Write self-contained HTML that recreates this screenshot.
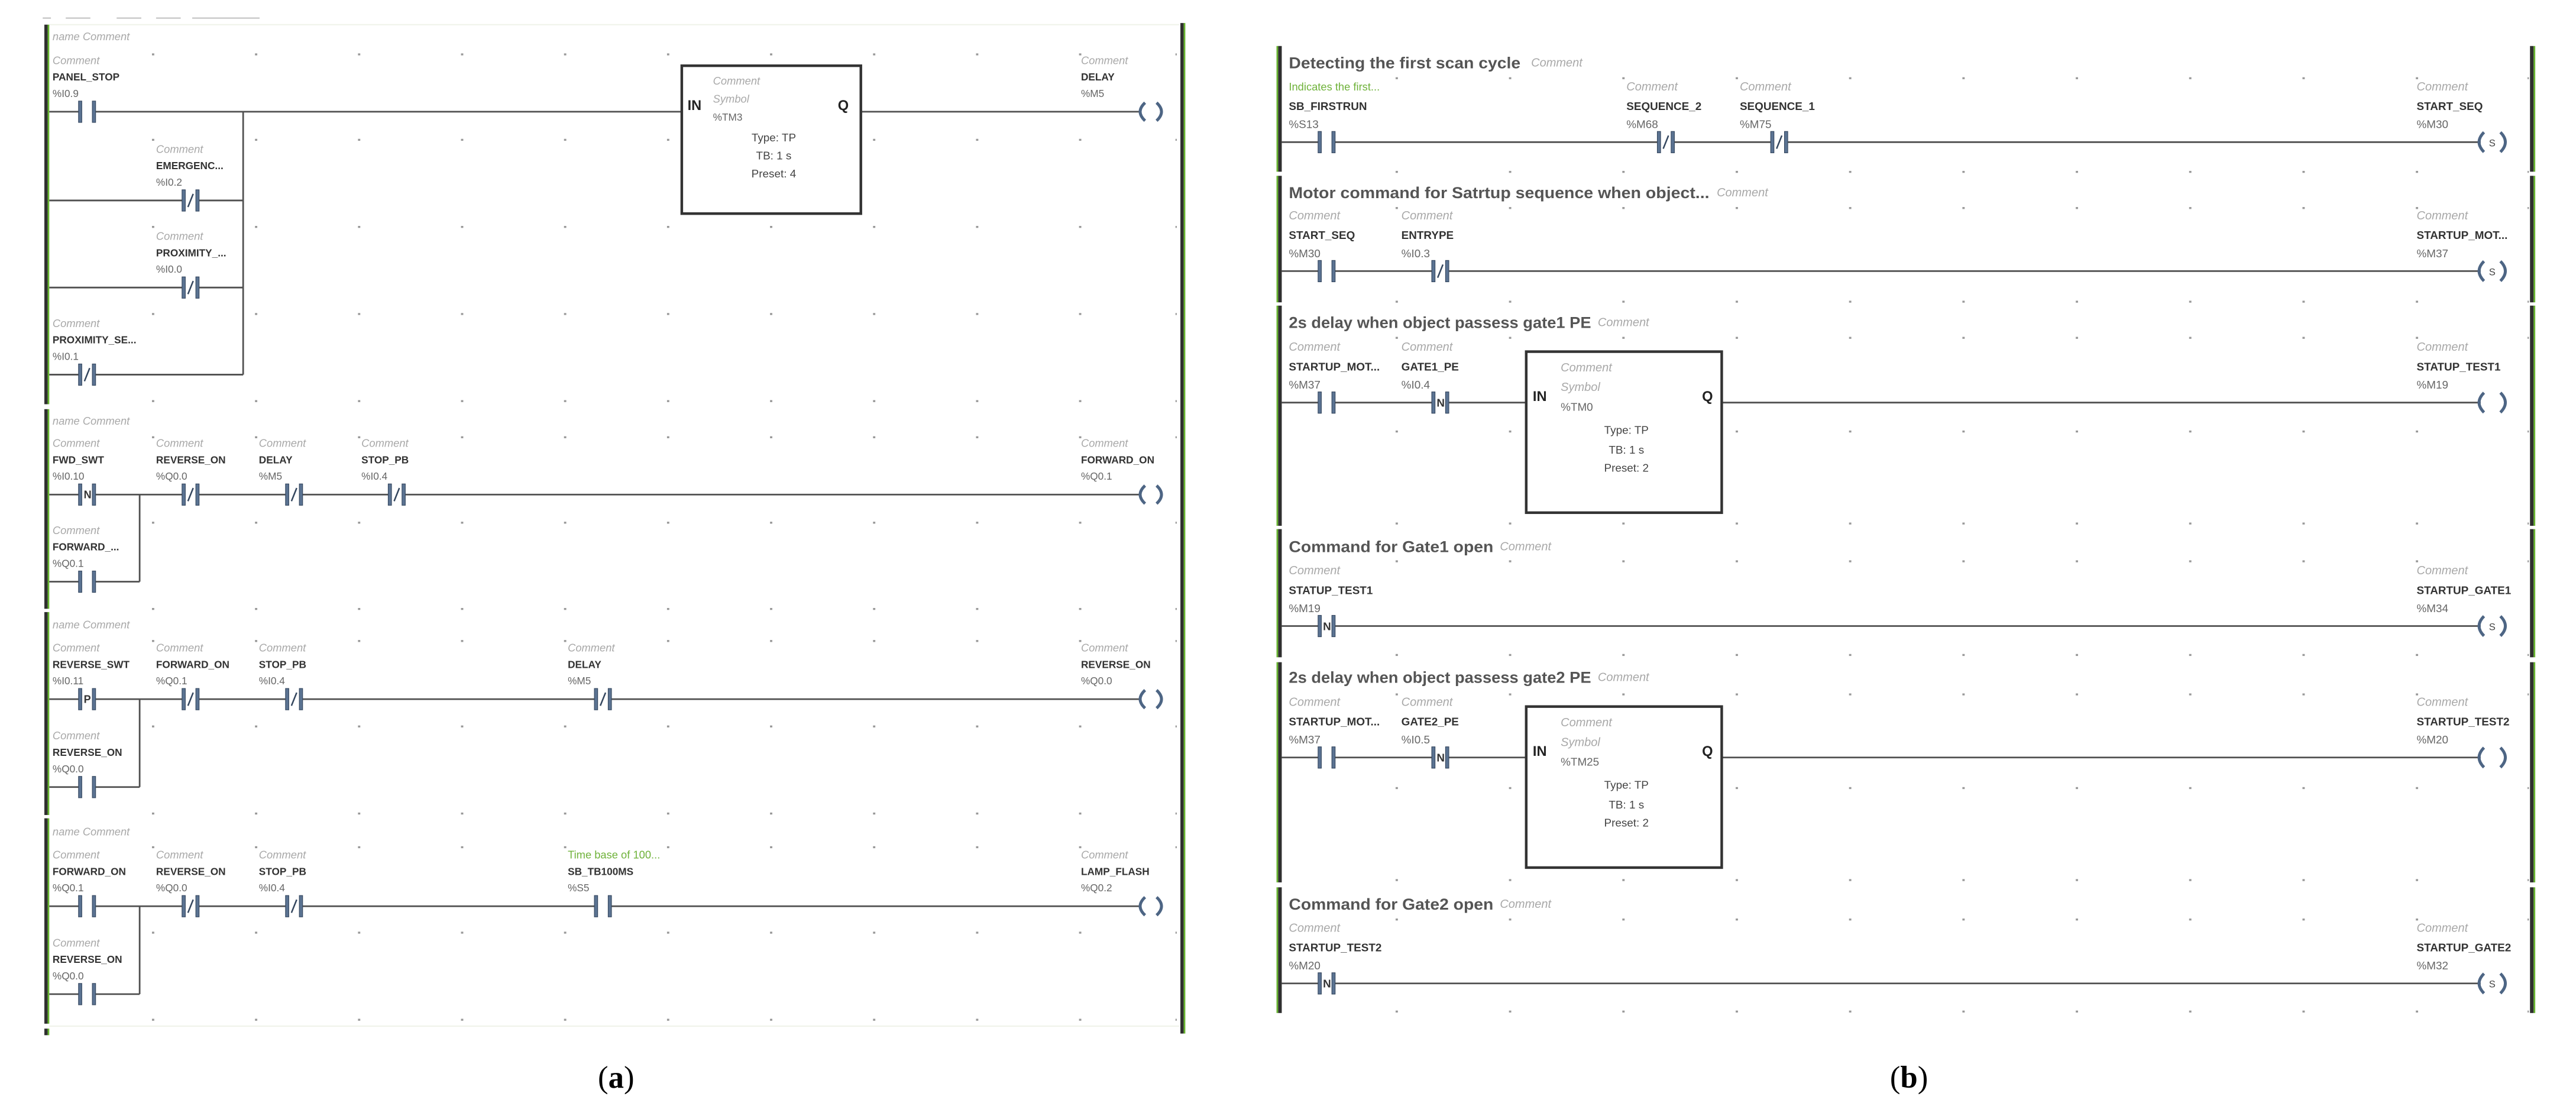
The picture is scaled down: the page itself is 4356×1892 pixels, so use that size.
<!DOCTYPE html>
<html><head><meta charset="utf-8"><style>
html,body{margin:0;padding:0;background:#fff;}
svg{display:block;}
text{font-family:"Liberation Sans",sans-serif;}
.c{fill:#a8a8a8;font-style:italic;font-size:6.6px;}
.n{fill:#333;font-weight:bold;font-size:6.2px;}
.a{fill:#666;font-size:6.2px;}
.cb{fill:#a8a8a8;font-style:italic;font-size:7.2px;}
.nb{fill:#333;font-weight:bold;font-size:6.8px;}
.ab{fill:#666;font-size:6.8px;}
.t{fill:#555;font-weight:bold;font-size:9.5px;}
.g{fill:#6fb23a;font-size:6.6px;}
.w{stroke:#505050;stroke-width:1;fill:none;}
.bx{stroke:#333;stroke-width:1.6;fill:#fff;}
.io{fill:#222;font-weight:bold;font-size:8.5px;}
.bt{fill:#444;font-size:6.8px;text-anchor:middle;}
.coil{stroke:#4d6584;stroke-width:1.8;fill:none;}
.cap{font-family:"Liberation Serif",serif;font-size:19px;fill:#000;}
</style></head><body>
<svg width="4356" height="1892" viewBox="0 0 1568 681" preserveAspectRatio="none" xmlns="http://www.w3.org/2000/svg">
<defs>
<g id="no"><rect x="-5" y="-7" width="10" height="14" fill="#fff"/><rect x="-5.2" y="-6.5" width="2" height="13" fill="#5b7392" stroke="#34465e" stroke-width=".4"/><rect x="3.2" y="-6.5" width="2" height="13" fill="#5b7392" stroke="#34465e" stroke-width=".4"/></g>
<g id="nc"><use href="#no"/><line x1="-1.6" y1="4" x2="1.6" y2="-4" stroke="#34465e" stroke-width=".9"/></g>
<g id="dotsA"><rect x="92.5" y="0" width="1.4" height="1.2" fill="#999"/><rect x="155.2" y="0" width="1.4" height="1.2" fill="#999"/><rect x="217.9" y="0" width="1.4" height="1.2" fill="#999"/><rect x="280.6" y="0" width="1.4" height="1.2" fill="#999"/><rect x="343.3" y="0" width="1.4" height="1.2" fill="#999"/><rect x="406" y="0" width="1.4" height="1.2" fill="#999"/><rect x="468.7" y="0" width="1.4" height="1.2" fill="#999"/><rect x="531.4" y="0" width="1.4" height="1.2" fill="#999"/><rect x="594.1" y="0" width="1.4" height="1.2" fill="#999"/><rect x="656.8" y="0" width="1.4" height="1.2" fill="#999"/><rect x="715.5" y="0" width="0.8" height="1.2" fill="#999"/></g>
<g id="dotsB"><rect x="849.5" y="0" width="1.4" height="1.2" fill="#999"/><rect x="918.5" y="0" width="1.4" height="1.2" fill="#999"/><rect x="987.5" y="0" width="1.4" height="1.2" fill="#999"/><rect x="1056.5" y="0" width="1.4" height="1.2" fill="#999"/><rect x="1125.5" y="0" width="1.4" height="1.2" fill="#999"/><rect x="1194.5" y="0" width="1.4" height="1.2" fill="#999"/><rect x="1263.5" y="0" width="1.4" height="1.2" fill="#999"/><rect x="1332.5" y="0" width="1.4" height="1.2" fill="#999"/><rect x="1401.5" y="0" width="1.4" height="1.2" fill="#999"/><rect x="1470.5" y="0" width="1.4" height="1.2" fill="#999"/><rect x="1538.5" y="0" width="0.8" height="1.2" fill="#999"/></g>
</defs>

<!-- ============ PANEL A ============ -->
<g stroke="#bbb" stroke-width=".7"><line x1="26" y1="11" x2="31" y2="11"/><line x1="40" y1="11" x2="55" y2="11"/><line x1="71" y1="11" x2="86" y2="11"/><line x1="95" y1="11" x2="110" y2="11"/><line x1="117" y1="11" x2="158" y2="11"/></g>
<line x1="30" y1="15" x2="718" y2="15" stroke="#f0f3ea" stroke-width=".8"/>
<!-- dots -->
<use href="#dotsA" y="32.5"/><use href="#dotsA" y="84.5"/><use href="#dotsA" y="137.5"/><use href="#dotsA" y="190.5"/><use href="#dotsA" y="243.5"/>
<use href="#dotsA" y="265.5"/><use href="#dotsA" y="317.5"/><use href="#dotsA" y="370"/>
<use href="#dotsA" y="389.5"/><use href="#dotsA" y="441.5"/><use href="#dotsA" y="494.5"/>
<use href="#dotsA" y="515"/><use href="#dotsA" y="567"/><use href="#dotsA" y="620"/>
<!-- rails -->
<g fill="#2f2f2f"><rect x="27" y="15" width="2" height="231"/><rect x="27" y="249" width="2" height="121.5"/><rect x="27" y="372.5" width="2" height="123.5"/><rect x="27" y="498" width="2" height="125"/><rect x="27" y="626" width="2" height="4"/>
<rect x="718.5" y="14" width="2" height="615"/></g>
<g fill="#66b32e"><rect x="29" y="15" width="1" height="231"/><rect x="29" y="249" width="1" height="121.5"/><rect x="29" y="372.5" width="1" height="123.5"/><rect x="29" y="498" width="1" height="125"/><rect x="29" y="626" width="1" height="4"/>
<rect x="720.5" y="14" width="1" height="615"/></g>

<!-- rung 1 -->
<text x="32" y="24.5" class="c">name  Comment</text>
<path class="w" d="M30 68H415M524 68H694M30 122H148M30 175H148M30 228H148M148 68V228"/>
<rect class="bx" x="415" y="40" width="109" height="90"/>
<text x="418.5" y="67" class="io">IN</text><text x="510" y="67" class="io">Q</text>
<text x="434" y="51.5" class="c">Comment</text><text x="434" y="62.5" class="c">Symbol</text><text x="434" y="73.5" class="a">%TM3</text>
<text x="471" y="86" class="bt">Type: TP</text><text x="471" y="97" class="bt">TB: 1 s</text><text x="471" y="108" class="bt">Preset: 4</text>
<use href="#no" x="53" y="68"/><use href="#nc" x="116" y="122"/><use href="#nc" x="116" y="175"/><use href="#nc" x="53" y="228"/>
<text x="32" y="39" class="c">Comment</text><text x="32" y="49" class="n">PANEL_STOP</text><text x="32" y="59" class="a">%I0.9</text>
<text x="95" y="93" class="c">Comment</text><text x="95" y="103" class="n">EMERGENC...</text><text x="95" y="113" class="a">%I0.2</text>
<text x="95" y="146" class="c">Comment</text><text x="95" y="156" class="n">PROXIMITY_...</text><text x="95" y="166" class="a">%I0.0</text>
<text x="32" y="199" class="c">Comment</text><text x="32" y="209" class="n">PROXIMITY_SE...</text><text x="32" y="219" class="a">%I0.1</text>
<text x="658" y="39" class="c">Comment</text><text x="658" y="49" class="n">DELAY</text><text x="658" y="59" class="a">%M5</text>
<path class="coil" d="M697 62.5Q691 68 697 73.5M704 62.5Q710 68 704 73.5"/>

<!-- rung 2 -->
<text x="32" y="258.5" class="c">name  Comment</text>
<path class="w" d="M30 301H694M30 354H85M85 301V354"/>
<use href="#no" x="53" y="301"/><text x="51" y="303.3" font-size="6.5" font-weight="bold" fill="#333">N</text>
<use href="#nc" x="116" y="301"/><use href="#nc" x="179" y="301"/><use href="#nc" x="241.5" y="301"/><use href="#no" x="53" y="354"/>
<text x="32" y="272" class="c">Comment</text><text x="32" y="282" class="n">FWD_SWT</text><text x="32" y="292" class="a">%I0.10</text>
<text x="95" y="272" class="c">Comment</text><text x="95" y="282" class="n">REVERSE_ON</text><text x="95" y="292" class="a">%Q0.0</text>
<text x="157.6" y="272" class="c">Comment</text><text x="157.6" y="282" class="n">DELAY</text><text x="157.6" y="292" class="a">%M5</text>
<text x="220" y="272" class="c">Comment</text><text x="220" y="282" class="n">STOP_PB</text><text x="220" y="292" class="a">%I0.4</text>
<text x="32" y="325" class="c">Comment</text><text x="32" y="335" class="n">FORWARD_...</text><text x="32" y="345" class="a">%Q0.1</text>
<text x="658" y="272" class="c">Comment</text><text x="658" y="282" class="n">FORWARD_ON</text><text x="658" y="292" class="a">%Q0.1</text>
<path class="coil" d="M697 295.5Q691 301 697 306.5M704 295.5Q710 301 704 306.5"/>

<!-- rung 3 -->
<text x="32" y="382.5" class="c">name  Comment</text>
<path class="w" d="M30 425.5H694M30 479H85M85 425.5V479"/>
<use href="#no" x="53" y="425.5"/><text x="51" y="427.8" font-size="6.5" font-weight="bold" fill="#333">P</text>
<use href="#nc" x="116" y="425.5"/><use href="#nc" x="179" y="425.5"/><use href="#nc" x="367" y="425.5"/><use href="#no" x="53" y="479"/>
<text x="32" y="396.5" class="c">Comment</text><text x="32" y="406.5" class="n">REVERSE_SWT</text><text x="32" y="416.5" class="a">%I0.11</text>
<text x="95" y="396.5" class="c">Comment</text><text x="95" y="406.5" class="n">FORWARD_ON</text><text x="95" y="416.5" class="a">%Q0.1</text>
<text x="157.6" y="396.5" class="c">Comment</text><text x="157.6" y="406.5" class="n">STOP_PB</text><text x="157.6" y="416.5" class="a">%I0.4</text>
<text x="345.6" y="396.5" class="c">Comment</text><text x="345.6" y="406.5" class="n">DELAY</text><text x="345.6" y="416.5" class="a">%M5</text>
<text x="32" y="450" class="c">Comment</text><text x="32" y="460" class="n">REVERSE_ON</text><text x="32" y="470" class="a">%Q0.0</text>
<text x="658" y="396.5" class="c">Comment</text><text x="658" y="406.5" class="n">REVERSE_ON</text><text x="658" y="416.5" class="a">%Q0.0</text>
<path class="coil" d="M697 420Q691 425.5 697 431M704 420Q710 425.5 704 431"/>

<!-- rung 4 -->
<text x="32" y="508.5" class="c">name  Comment</text>
<path class="w" d="M30 551.5H694M30 605H85M85 551.5V605"/>
<use href="#no" x="53" y="551.5"/><use href="#nc" x="116" y="551.5"/><use href="#nc" x="179" y="551.5"/><use href="#no" x="367" y="551.5"/><use href="#no" x="53" y="605"/>
<text x="32" y="522.5" class="c">Comment</text><text x="32" y="532.5" class="n">FORWARD_ON</text><text x="32" y="542.5" class="a">%Q0.1</text>
<text x="95" y="522.5" class="c">Comment</text><text x="95" y="532.5" class="n">REVERSE_ON</text><text x="95" y="542.5" class="a">%Q0.0</text>
<text x="157.6" y="522.5" class="c">Comment</text><text x="157.6" y="532.5" class="n">STOP_PB</text><text x="157.6" y="542.5" class="a">%I0.4</text>
<text x="345.6" y="522.5" class="g">Time base of 100...</text><text x="345.6" y="532.5" class="n">SB_TB100MS</text><text x="345.6" y="542.5" class="a">%S5</text>
<text x="32" y="576" class="c">Comment</text><text x="32" y="586" class="n">REVERSE_ON</text><text x="32" y="596" class="a">%Q0.0</text>
<text x="658" y="522.5" class="c">Comment</text><text x="658" y="532.5" class="n">LAMP_FLASH</text><text x="658" y="542.5" class="a">%Q0.2</text>
<path class="coil" d="M697 546Q691 551.5 697 557M704 546Q710 551.5 704 557"/>
<line x1="30" y1="624.5" x2="718" y2="624.5" stroke="#f0f3ea" stroke-width=".8"/>

<!-- ============ PANEL B ============ -->
<use href="#dotsB" y="47"/><use href="#dotsB" y="104"/>
<use href="#dotsB" y="126"/><use href="#dotsB" y="183"/>
<use href="#dotsB" y="205"/><use href="#dotsB" y="262"/><use href="#dotsB" y="318"/>
<use href="#dotsB" y="341"/><use href="#dotsB" y="398"/>
<use href="#dotsB" y="422"/><use href="#dotsB" y="479"/><use href="#dotsB" y="535"/>
<use href="#dotsB" y="559"/><use href="#dotsB" y="615"/>
<g fill="#2f2f2f"><rect x="778" y="28" width="2.2" height="76.5"/><rect x="778" y="107" width="2.2" height="77"/><rect x="778" y="186" width="2.2" height="134"/><rect x="778" y="322" width="2.2" height="78"/><rect x="778" y="403" width="2.2" height="134"/><rect x="778" y="540" width="2.2" height="76.5"/>
<rect x="1540" y="28" width="2.2" height="76.5"/><rect x="1540" y="107" width="2.2" height="77"/><rect x="1540" y="186" width="2.2" height="134"/><rect x="1540" y="322" width="2.2" height="78"/><rect x="1540" y="403" width="2.2" height="134"/><rect x="1540" y="540" width="2.2" height="76.5"/></g>
<g fill="#66b32e"><rect x="777" y="28" width="1" height="76.5"/><rect x="777" y="107" width="1" height="77"/><rect x="777" y="186" width="1" height="134"/><rect x="777" y="322" width="1" height="78"/><rect x="777" y="403" width="1" height="134"/><rect x="777" y="540" width="1" height="76.5"/>
<rect x="1542.2" y="28" width="1" height="76.5"/><rect x="1542.2" y="107" width="1" height="77"/><rect x="1542.2" y="186" width="1" height="134"/><rect x="1542.2" y="322" width="1" height="78"/><rect x="1542.2" y="403" width="1" height="134"/><rect x="1542.2" y="540" width="1" height="76.5"/></g>

<!-- b rung1 -->
<text x="784.5" y="41.5" class="t" textLength="141" lengthAdjust="spacingAndGlyphs">Detecting the  first scan cycle</text><text x="932" y="40.5" class="cb">Comment</text>
<path class="w" d="M780 86.5H1510"/>
<use href="#no" x="807.5" y="86.5"/><use href="#nc" x="1014" y="86.5"/><use href="#nc" x="1083" y="86.5"/>
<text x="784.5" y="55" class="g" font-size="7">Indicates the first...</text><text x="784.5" y="67" class="nb">SB_FIRSTRUN</text><text x="784.5" y="78" class="ab">%S13</text>
<text x="990" y="55" class="cb">Comment</text><text x="990" y="67" class="nb">SEQUENCE_2</text><text x="990" y="78" class="ab">%M68</text>
<text x="1059" y="55" class="cb">Comment</text><text x="1059" y="67" class="nb">SEQUENCE_1</text><text x="1059" y="78" class="ab">%M75</text>
<text x="1471" y="55" class="cb">Comment</text><text x="1471" y="67" class="nb">START_SEQ</text><text x="1471" y="78" class="ab">%M30</text>
<path class="coil" d="M1512 80.5Q1506 86.5 1512 92.5M1522 80.5Q1528 86.5 1522 92.5"/><text x="1517" y="89" font-size="6" fill="#444" text-anchor="middle">S</text>

<!-- b rung2 -->
<text x="784.5" y="120.5" class="t" textLength="256" lengthAdjust="spacingAndGlyphs">Motor command for Satrtup sequence when object...</text><text x="1045" y="119.5" class="cb">Comment</text>
<path class="w" d="M780 165H1510"/>
<use href="#no" x="807.5" y="165"/><use href="#nc" x="876.7" y="165"/>
<text x="784.5" y="133.5" class="cb">Comment</text><text x="784.5" y="145.5" class="nb">START_SEQ</text><text x="784.5" y="156.5" class="ab">%M30</text>
<text x="853" y="133.5" class="cb">Comment</text><text x="853" y="145.5" class="nb">ENTRYPE</text><text x="853" y="156.5" class="ab">%I0.3</text>
<text x="1471" y="133.5" class="cb">Comment</text><text x="1471" y="145.5" class="nb">STARTUP_MOT...</text><text x="1471" y="156.5" class="ab">%M37</text>
<path class="coil" d="M1512 159Q1506 165 1512 171M1522 159Q1528 165 1522 171"/><text x="1517" y="167.5" font-size="6" fill="#444" text-anchor="middle">S</text>

<!-- b rung3 -->
<text x="784.5" y="199.5" class="t" textLength="184" lengthAdjust="spacingAndGlyphs">2s delay when object passess gate1 PE</text><text x="972.6" y="198.5" class="cb">Comment</text>
<path class="w" d="M780 245H929M1048 245H1510"/>
<rect class="bx" x="929" y="214" width="119" height="98"/>
<text x="933" y="244" class="io">IN</text><text x="1036" y="244" class="io">Q</text>
<text x="950" y="226" class="cb">Comment</text><text x="950" y="238" class="cb">Symbol</text><text x="950" y="250" class="ab">%TM0</text>
<text x="990" y="264" class="bt">Type: TP</text><text x="990" y="276" class="bt">TB: 1 s</text><text x="990" y="287" class="bt">Preset: 2</text>
<use href="#no" x="807.5" y="245"/><use href="#no" x="876.7" y="245"/><text x="874.5" y="247.5" font-size="6.8" font-weight="bold" fill="#333">N</text>
<text x="784.5" y="213.5" class="cb">Comment</text><text x="784.5" y="225.5" class="nb">STARTUP_MOT...</text><text x="784.5" y="236.5" class="ab">%M37</text>
<text x="853" y="213.5" class="cb">Comment</text><text x="853" y="225.5" class="nb">GATE1_PE</text><text x="853" y="236.5" class="ab">%I0.4</text>
<text x="1471" y="213.5" class="cb">Comment</text><text x="1471" y="225.5" class="nb">STATUP_TEST1</text><text x="1471" y="236.5" class="ab">%M19</text>
<path class="coil" d="M1512 239Q1506 245 1512 251M1522 239Q1528 245 1522 251"/>

<!-- b rung4 -->
<text x="784.5" y="336" class="t" textLength="124.5" lengthAdjust="spacingAndGlyphs">Command for Gate1 open</text><text x="913" y="335" class="cb">Comment</text>
<path class="w" d="M780 381H1510"/>
<use href="#no" x="807.5" y="381"/><text x="805.3" y="383.5" font-size="6.8" font-weight="bold" fill="#333">N</text>
<text x="784.5" y="349.5" class="cb">Comment</text><text x="784.5" y="361.5" class="nb">STATUP_TEST1</text><text x="784.5" y="372.5" class="ab">%M19</text>
<text x="1471" y="349.5" class="cb">Comment</text><text x="1471" y="361.5" class="nb">STARTUP_GATE1</text><text x="1471" y="372.5" class="ab">%M34</text>
<path class="coil" d="M1512 375Q1506 381 1512 387M1522 375Q1528 381 1522 387"/><text x="1517" y="383.5" font-size="6" fill="#444" text-anchor="middle">S</text>

<!-- b rung5 -->
<text x="784.5" y="415.5" class="t" textLength="184" lengthAdjust="spacingAndGlyphs">2s delay when object passess gate2 PE</text><text x="972.6" y="414.5" class="cb">Comment</text>
<path class="w" d="M780 461H929M1048 461H1510"/>
<rect class="bx" x="929" y="430" width="119" height="98"/>
<text x="933" y="460" class="io">IN</text><text x="1036" y="460" class="io">Q</text>
<text x="950" y="442" class="cb">Comment</text><text x="950" y="454" class="cb">Symbol</text><text x="950" y="466" class="ab">%TM25</text>
<text x="990" y="480" class="bt">Type: TP</text><text x="990" y="492" class="bt">TB: 1 s</text><text x="990" y="503" class="bt">Preset: 2</text>
<use href="#no" x="807.5" y="461"/><use href="#no" x="876.7" y="461"/><text x="874.5" y="463.5" font-size="6.8" font-weight="bold" fill="#333">N</text>
<text x="784.5" y="429.5" class="cb">Comment</text><text x="784.5" y="441.5" class="nb">STARTUP_MOT...</text><text x="784.5" y="452.5" class="ab">%M37</text>
<text x="853" y="429.5" class="cb">Comment</text><text x="853" y="441.5" class="nb">GATE2_PE</text><text x="853" y="452.5" class="ab">%I0.5</text>
<text x="1471" y="429.5" class="cb">Comment</text><text x="1471" y="441.5" class="nb">STARTUP_TEST2</text><text x="1471" y="452.5" class="ab">%M20</text>
<path class="coil" d="M1512 455Q1506 461 1512 467M1522 455Q1528 461 1522 467"/>

<!-- b rung6 -->
<text x="784.5" y="553.5" class="t" textLength="124.5" lengthAdjust="spacingAndGlyphs">Command for Gate2 open</text><text x="913" y="552.5" class="cb">Comment</text>
<path class="w" d="M780 598.5H1510"/>
<use href="#no" x="807.5" y="598.5"/><text x="805.3" y="601" font-size="6.8" font-weight="bold" fill="#333">N</text>
<text x="784.5" y="567" class="cb">Comment</text><text x="784.5" y="579" class="nb">STARTUP_TEST2</text><text x="784.5" y="590" class="ab">%M20</text>
<text x="1471" y="567" class="cb">Comment</text><text x="1471" y="579" class="nb">STARTUP_GATE2</text><text x="1471" y="590" class="ab">%M32</text>
<path class="coil" d="M1512 592.5Q1506 598.5 1512 604.5M1522 592.5Q1528 598.5 1522 604.5"/><text x="1517" y="601" font-size="6" fill="#444" text-anchor="middle">S</text>

<!-- captions -->
<text x="375" y="662" class="cap" text-anchor="middle">(<tspan font-weight="bold">a</tspan>)</text>
<text x="1162" y="662" class="cap" text-anchor="middle">(<tspan font-weight="bold">b</tspan>)</text>
</svg>
</body></html>
